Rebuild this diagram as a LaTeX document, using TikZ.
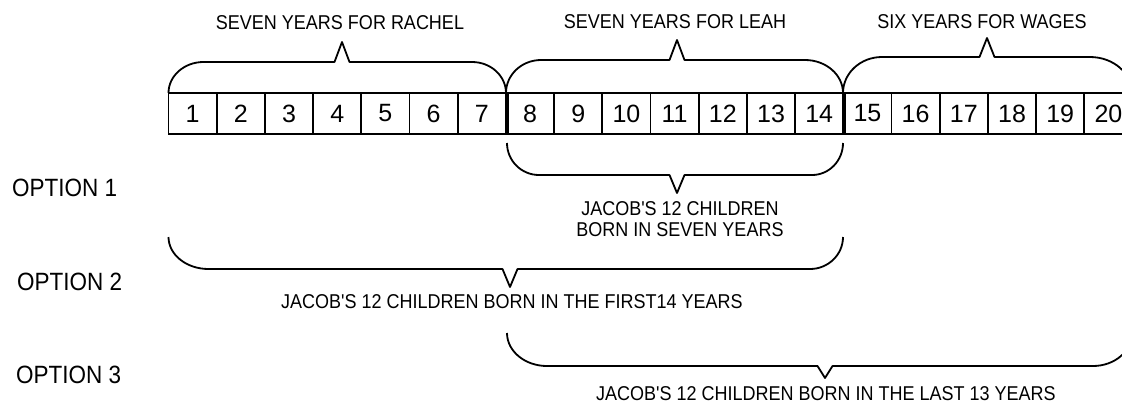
\documentclass[tikz,border=0pt]{standalone}
\usepackage{fontspec}
\newfontfamily\lblfont[FakeStretch=0.9]{Liberation Sans}
\newfontfamily\digfont{Liberation Sans}
\newcommand\mybrace[8]{%
  \draw[bline] (#1,#3) .. controls (#1,{#3+0.552*(#4-#3)}) and ({#1+0.448*#7},#4) .. ({#1+#7},#4)
    -- ({#5-7.5},#4) -- (#5,#6) -- ({#5+7.5},#4) -- ({#2-#8},#4)
    .. controls ({#2-0.448*#8},#4) and (#2,{#3+0.552*(#4-#3)}) .. (#2,#3);}
\begin{document}
\begin{tikzpicture}[x=1pt,y=-1pt,
  bline/.style={line width=1.8pt, line join=round},
  lbl/.style={inner sep=0pt, font=\lblfont\fontsize{20}{24}\selectfont},
  opt/.style={inner sep=0pt, anchor=west, font=\lblfont\fontsize{25}{30}\selectfont},
  yearbox/.style={draw, line width=1.8pt, inner sep=0pt, minimum width=48.2pt,
    minimum height=41pt, font=\digfont\fontsize{25}{30}\selectfont}]
\useasboundingbox (0,0) rectangle (1122,405);
\clip (0,0) rectangle (1122,405);
\foreach \i in {1,...,20} {
  \node[yearbox] (y\i) at ({168.5+48.2*(\i-0.5)},113.5) {\i};
}
\draw[line width=3.8pt] (y7.north east) -- (y7.south east);
\draw[line width=3.8pt] (y14.north east) -- (y14.south east);
% top braces
\mybrace{168.5}{506}{93}{62}{342}{42}{35}{34}
\mybrace{506}{843}{93}{60}{677}{40}{35}{38}
\mybrace{843}{1132}{93}{57}{987}{38}{39}{42}
% option braces
\mybrace{507}{843}{143}{175}{677}{193}{32}{31}
\mybrace{168.5}{843}{237}{269}{510}{287}{40}{33}
\mybrace{507}{1132}{333}{366}{825}{378}{40}{39}
% labels
\node[lbl] (rachel) at (340,23) {SEVEN YEARS FOR RACHEL};
\node[lbl] (leah) at (675,22) {SEVEN YEARS FOR LEAH};
\node[lbl] (wages) at (982,22) {SIX YEARS FOR WAGES};
\node[lbl] (o1a) at (680,209) {JACOB'S 12 CHILDREN};
\node[lbl] (o1b) at (680,229.5) {BORN IN SEVEN YEARS};
\node[lbl] (o2t) at (512,302) {JACOB'S 12 CHILDREN BORN IN THE FIRST14 YEARS};
\node[lbl] (o3t) at (826,394) {JACOB'S 12 CHILDREN BORN IN THE LAST 13 YEARS};
\node[opt] (op1) at (12,188) {OPTION 1};
\node[opt] (op2) at (17,282) {OPTION 2};
\node[opt] (op3) at (16,375) {OPTION 3};
\end{tikzpicture}
\end{document}
